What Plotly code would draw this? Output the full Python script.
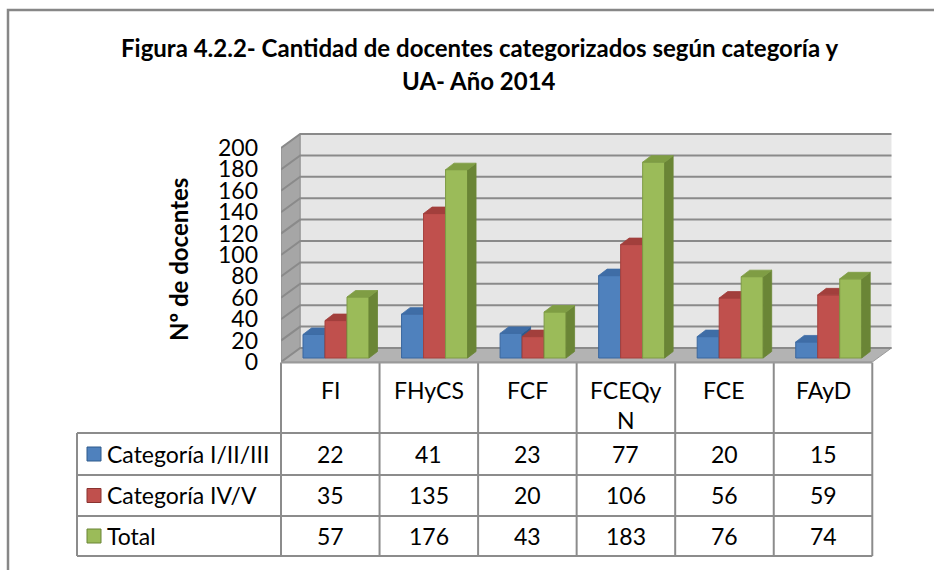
import plotly.graph_objects as go

# ---- data -------------------------------------------------------------
categories = ["FI", "FHyCS", "FCF", "FCEQyN", "FCE", "FAyD"]
header_labels = ["FI", "FHyCS", "FCF", "FCEQy<br>N", "FCE", "FAyD"]
series_names = ["Categoría I/II/III", "Categoría IV/V", "Total"]
cat_1_3 = [22, 41, 23, 77, 20, 15]
cat_4_5 = [35, 135, 20, 106, 56, 59]
total = [57, 176, 43, 183, 76, 74]
y_ticks = list(range(0, 201, 20))

series_values = [cat_1_3, cat_4_5, total]

# front / top / side / outline colours for each series
palette = [
    dict(front="#4F81BD", top="#3F6DA6", side="#2F5A8C", edge="#3A679F"),
    dict(front="#C0504D", top="#A23F3C", side="#8A3330", edge="#A5403D"),
    dict(front="#9BBB59", top="#7F9D44", side="#6A8536", edge="#7E9B45"),
]

FONT = "Lato"
TEXT = "#000000"
GRID = "#8A8A8A"
TABLE_SIZE = 23

# ---- geometry ---------------------------------------------------------
W, H = 934, 570
ML, MR, MT, MB = 281, 42, 133, 208
PW = W - ML - MR
PH = H - MT - MB
X_MAX = 6.2
Y_MAX = 214.0
PX_X = PW / X_MAX          # pixels per category unit
PX_Y = PH / Y_MAX          # pixels per value unit

WALL_DX = 19.2 / PX_X      # depth of the 3-D box
WALL_DY = 14.0 / PX_Y
BAR_BASE = 4.0 / PX_Y      # bars stand slightly behind the floor edge
BAR_OFF = 22.0 / PX_X
BAR_W = 22.0 / PX_X
DEPTH_DX = 8.5 / PX_X      # depth of each column
DEPTH_DY = 6.5 / PX_Y
N = len(categories)
TOP_VAL = y_ticks[-1]


def paper_x(px):
    return (px - ML) / PW


def paper_y(py):
    return (MT + PH - py) / PH


def cat_px(x):
    return ML + x * PX_X


fig = go.Figure()

# ---- columns: one overlaid subplot per series so later series hide the
# sides of earlier ones -------------------------------------------------
for k, (vals, col) in enumerate(zip(series_values, palette)):
    xa = "x" if k == 0 else f"x{k + 1}"
    ya = "y" if k == 0 else f"y{k + 1}"
    lefts = [i + BAR_OFF + k * BAR_W for i in range(N)]
    centers = [l + BAR_W / 2 for l in lefts]

    side_x, side_y, top_x, top_y = [], [], [], []
    for l, v in zip(lefts, vals):
        r = l + BAR_W
        t = BAR_BASE + v
        side_x += [r, r, r + DEPTH_DX, r + DEPTH_DX, r, None]
        side_y += [BAR_BASE, t, t + DEPTH_DY, BAR_BASE + DEPTH_DY, BAR_BASE, None]
        top_x += [l, r, r + DEPTH_DX, l + DEPTH_DX, l, None]
        top_y += [t, t, t + DEPTH_DY, t + DEPTH_DY, t, None]

    fig.add_trace(go.Scatter(
        x=side_x, y=side_y, mode="lines", fill="toself",
        fillcolor=col["side"], line=dict(color=col["side"], width=0.8),
        xaxis=xa, yaxis=ya, hoverinfo="skip", showlegend=False))
    fig.add_trace(go.Scatter(
        x=top_x, y=top_y, mode="lines", fill="toself",
        fillcolor=col["top"], line=dict(color=col["top"], width=0.8),
        xaxis=xa, yaxis=ya, hoverinfo="skip", showlegend=False))
    fig.add_trace(go.Bar(
        x=centers, y=vals, base=BAR_BASE, width=BAR_W,
        marker=dict(color=col["front"], line=dict(color=col["edge"], width=1)),
        name=series_names[k], customdata=categories,
        hovertemplate="%{customdata}: %{y}<extra>" + series_names[k] + "</extra>",
        xaxis=xa, yaxis=ya, showlegend=False))

# ---- walls, floor and gridlines --------------------------------------
shapes = []
# back wall
shapes.append(dict(type="rect", xref="x", yref="y", layer="below",
                   x0=WALL_DX, x1=N + WALL_DX, y0=WALL_DY, y1=TOP_VAL + WALL_DY,
                   fillcolor="#E6E6E6", line=dict(width=0)))
# side wall
shapes.append(dict(type="path", xref="x", yref="y", layer="below",
                   path=f"M0,0 L0,{TOP_VAL} L{WALL_DX},{TOP_VAL + WALL_DY} "
                        f"L{WALL_DX},{WALL_DY} Z",
                   fillcolor="#A6A6A6", line=dict(color="#8C8C8C", width=1)))
# floor
shapes.append(dict(type="path", xref="x", yref="y", layer="below",
                   path=f"M0,0 L{N},0 L{N + WALL_DX},{WALL_DY} L{WALL_DX},{WALL_DY} Z",
                   fillcolor="#B3B3B3", line=dict(color="#9A9A9A", width=1)))
for v in y_ticks:
    shapes.append(dict(type="path", xref="x", yref="y", layer="below",
                       path=f"M0,{v} L{WALL_DX},{v + WALL_DY} L{N + WALL_DX},{v + WALL_DY}",
                       line=dict(color=GRID, width=2)))

# ---- data table -------------------------------------------------------
TBL_LEFT = 77
TBL_HEAD_TOP = 362.5
ROW_EDGES = [433, 475, 516, 556]
TLINE = dict(color="#8C8C8C", width=2)

for i in range(N + 1):
    xp = paper_x(cat_px(i))
    shapes.append(dict(type="line", xref="paper", yref="paper",
                       x0=xp, x1=xp, y0=paper_y(TBL_HEAD_TOP), y1=paper_y(ROW_EDGES[-1]),
                       line=TLINE))
for py in ROW_EDGES:
    shapes.append(dict(type="line", xref="paper", yref="paper",
                       x0=paper_x(TBL_LEFT), x1=paper_x(cat_px(N)),
                       y0=paper_y(py), y1=paper_y(py), line=TLINE))
shapes.append(dict(type="line", xref="paper", yref="paper",
                   x0=paper_x(TBL_LEFT), x1=paper_x(TBL_LEFT),
                   y0=paper_y(ROW_EDGES[0]), y1=paper_y(ROW_EDGES[-1]), line=TLINE))
shapes.append(dict(type="line", xref="paper", yref="paper",
                   x0=0, x1=paper_x(cat_px(N)),
                   y0=paper_y(TBL_HEAD_TOP), y1=paper_y(TBL_HEAD_TOP),
                   line=dict(color="#9A9A9A", width=2)))

annotations = []
for i, lab in enumerate(header_labels):
    annotations.append(dict(xref="x", yref="paper", x=i + 0.5, y=paper_y(374),
                            text=lab, showarrow=False, yanchor="top",
                            font=dict(family=FONT, size=TABLE_SIZE, color=TEXT)))

for r, (name, vals, col) in enumerate(zip(series_names, series_values, palette)):
    cy = (ROW_EDGES[r] + ROW_EDGES[r + 1]) / 2
    shapes.append(dict(type="rect", xref="paper", yref="paper",
                       x0=paper_x(87), x1=paper_x(101),
                       y0=paper_y(cy + 7), y1=paper_y(cy - 7),
                       fillcolor=col["front"], line=dict(color=col["side"], width=1)))
    annotations.append(dict(xref="paper", yref="paper", x=paper_x(105), y=paper_y(cy),
                            text=name, showarrow=False, xanchor="left", yanchor="middle",
                            font=dict(family=FONT, size=TABLE_SIZE, color=TEXT)))
    for i, v in enumerate(vals):
        annotations.append(dict(xref="x", yref="paper", x=i + 0.5, y=paper_y(cy),
                                text=str(v), showarrow=False, yanchor="middle",
                                font=dict(family=FONT, size=TABLE_SIZE, color=TEXT)))

# ---- titles and frame ---------------------------------------------------
annotations.append(dict(xref="paper", yref="paper", x=paper_x(479), y=paper_y(47),
                        text="<b>Figura 4.2.2- Cantidad de docentes categorizados según categoría y</b>",
                        showarrow=False, xanchor="center", yanchor="middle",
                        font=dict(family=FONT, size=24, color=TEXT)))
annotations.append(dict(xref="paper", yref="paper", x=paper_x(479), y=paper_y(80),
                        text="<b>UA- Año 2014</b>",
                        showarrow=False, xanchor="center", yanchor="middle",
                        font=dict(family=FONT, size=24, color=TEXT)))
annotations.append(dict(xref="paper", yref="paper", x=paper_x(178), y=paper_y(260),
                        text="<b>Nº de docentes</b>", textangle=-90,
                        showarrow=False, xanchor="center", yanchor="middle",
                        font=dict(family=FONT, size=24, color=TEXT)))

shapes.append(dict(type="rect", xref="paper", yref="paper",
                   x0=paper_x(8), x1=paper_x(W + 10), y0=paper_y(10), y1=paper_y(H + 10),
                   line=dict(color="#878787", width=2.5), fillcolor="rgba(0,0,0,0)"))

hidden_x = dict(range=[0, X_MAX], visible=False, fixedrange=True)
hidden_y = dict(range=[0, Y_MAX], visible=False, fixedrange=True)

fig.update_layout(
    width=W, height=H,
    margin=dict(l=ML, r=MR, t=MT, b=MB, pad=0),
    paper_bgcolor="white", plot_bgcolor="rgba(0,0,0,0)",
    barmode="overlay", showlegend=False,
    xaxis=dict(range=[0, X_MAX], visible=False, fixedrange=True, domain=[0, 1]),
    xaxis2=dict(hidden_x, overlaying="x"),
    xaxis3=dict(hidden_x, overlaying="x"),
    yaxis=dict(range=[0, Y_MAX], tickmode="array", tickvals=y_ticks,
               ticktext=[str(t) for t in y_ticks], showgrid=False, zeroline=False,
               showline=False, ticks="", ticklabelstandoff=22, fixedrange=True,
               tickfont=dict(family=FONT, size=23, color=TEXT)),
    yaxis2=dict(hidden_y, overlaying="y"),
    yaxis3=dict(hidden_y, overlaying="y"),
    shapes=shapes, annotations=annotations,
)

fig.write_html("out.html")
